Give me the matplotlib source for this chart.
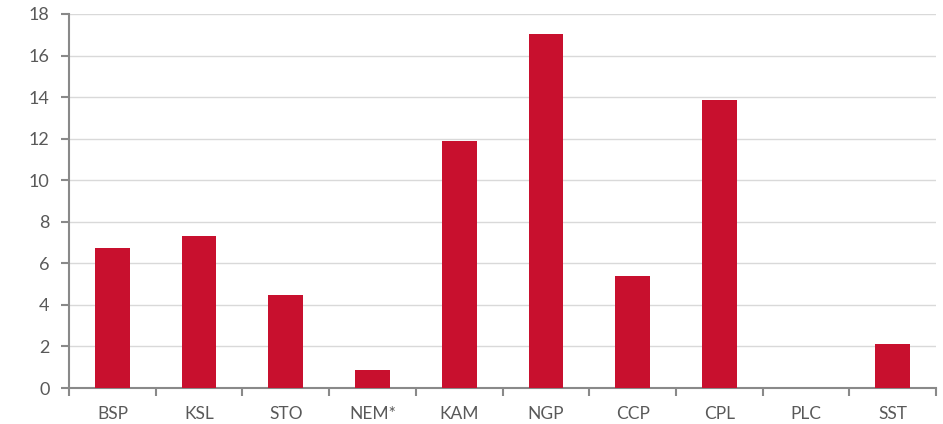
import matplotlib
matplotlib.use("Agg")
import matplotlib.pyplot as plt
import numpy as np

categories = ["BSP", "KSL", "STO", "NEM*", "KAM", "NGP", "CCP", "CPL", "PLC", "SST"]
values = [6.72, 7.33, 4.48, 0.85, 11.9, 17.04, 5.39, 13.84, 0.0, 2.10]
yticks = [0, 2, 4, 6, 8, 10, 12, 14, 16, 18]

plt.rcParams['font.family'] = ['Lato', 'DejaVu Sans']

fig = plt.figure(figsize=(9.43, 4.24), dpi=100)
ax = fig.add_axes([0.0732, 0.0849, 0.9194, 0.8821])

x = np.arange(len(categories))
ax.bar(x, values, width=0.4, color="#C8102E", zorder=3)

ax.set_xlim(-0.5, len(categories) - 0.5)
ax.set_ylim(0, 18)
ax.set_yticks(yticks)
ax.set_yticklabels([str(t) for t in yticks])
ax.set_xticks(x)
ax.set_xticklabels(categories)
ax.set_xticks(np.arange(-0.5, len(categories), 1.0), minor=True)

ax.grid(axis='y', color="#d9d9d9", linewidth=1.0, zorder=0)
for s in ['top', 'right']:
    ax.spines[s].set_visible(False)
for s in ['left', 'bottom']:
    ax.spines[s].set_color("#898989")
    ax.spines[s].set_linewidth(1.5)

ax.tick_params(axis='x', which='major', length=0, pad=13, labelsize=12.5, labelcolor="#595959")
ax.tick_params(axis='x', which='minor', length=6, width=1.5, color="#898989", direction='out')
ax.tick_params(axis='y', which='major', length=6, width=1.5, color="#898989", pad=8,
               labelsize=13, labelcolor="#595959")

fig.savefig("out.png", dpi=100)
